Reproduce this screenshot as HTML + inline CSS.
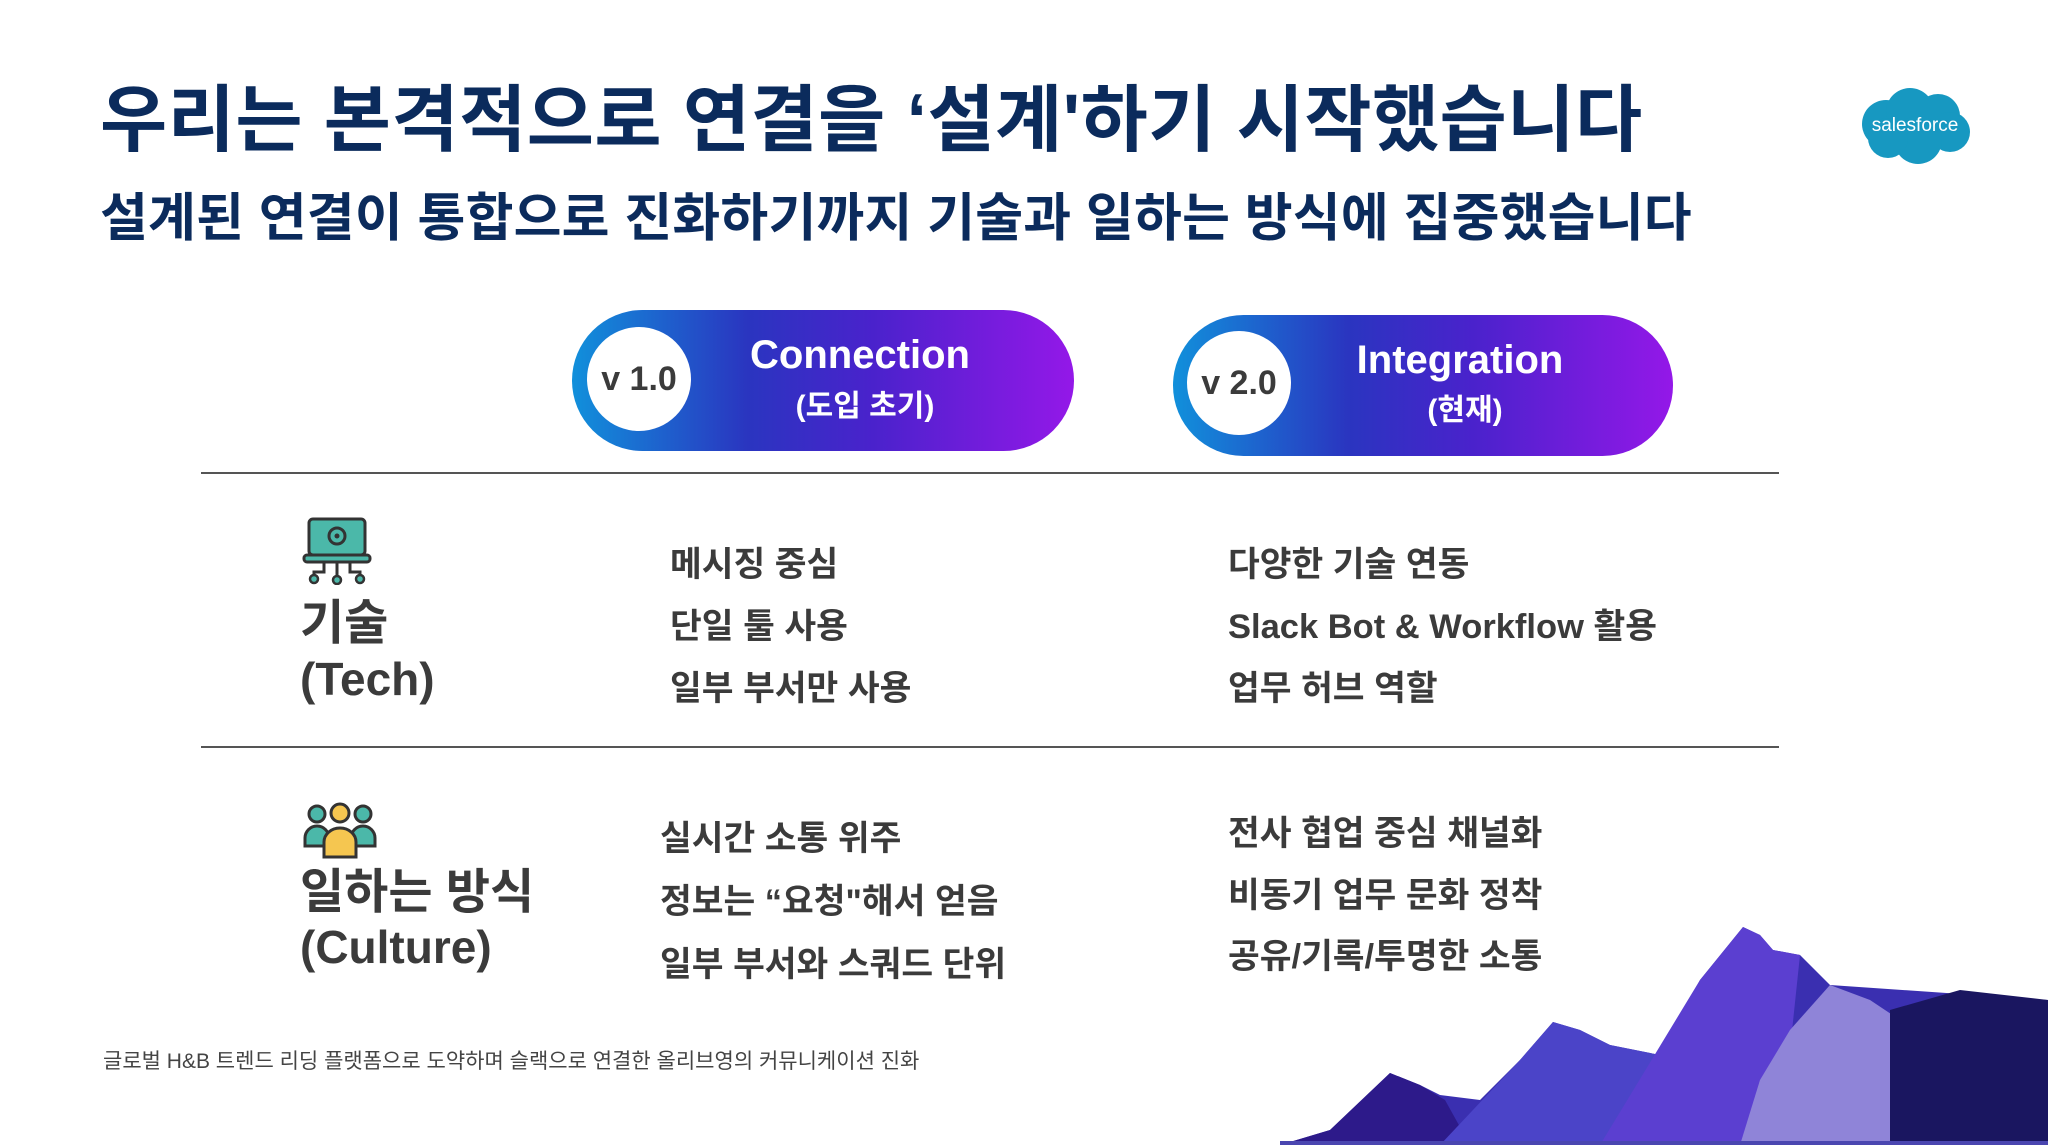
<!DOCTYPE html>
<html><head><meta charset="utf-8">
<style>
html,body{margin:0;padding:0}
body{width:2048px;height:1145px;position:relative;overflow:hidden;background:#fff;font-family:"Liberation Sans","Noto Sans CJK KR",sans-serif}
.t{position:absolute;white-space:nowrap;line-height:1}
.b{color:#3b3b3b;font-size:34.5px;font-weight:bold}
.h{color:#0b2b5c;font-weight:bold}
.pill{position:absolute;border-radius:80px;background:linear-gradient(90deg,#1190db 0%,#2a35c0 35%,#4a22cc 60%,#9418e8 100%)}
.circ{position:absolute;background:#fff;border-radius:50%;color:#3b3b3b;font-weight:bold;font-size:34px;display:flex;align-items:center;justify-content:center}
.pt{position:absolute;color:#fff;font-weight:bold;text-align:center;line-height:1}
.line{position:absolute;left:201px;width:1578px;height:2px;background:#555}
</style></head><body>
<div class="t h" style="left:100px;top:84px;font-size:73px;letter-spacing:0.5px">우리는 본격적으로 연결을 ‘설계'하기 시작했습니다</div>
<div class="t h" style="left:100px;top:193px;font-size:52px;letter-spacing:0.2px">설계된 연결이 통합으로 진화하기까지 기술과 일하는 방식에 집중했습니다</div>

<svg style="position:absolute;left:1858px;top:86px" width="114" height="80" viewBox="0 0 114 80">
<g fill="#1798c1"><circle cx="28" cy="38" r="24"/><circle cx="52" cy="26" r="24"/><circle cx="80" cy="30" r="22"/><circle cx="92" cy="46" r="20"/><circle cx="60" cy="54" r="24"/><circle cx="30" cy="52" r="20"/></g>
<text x="57" y="45" fill="#fff" font-size="19" text-anchor="middle" font-family="Liberation Sans,sans-serif">salesforce</text></svg>

<div class="pill" style="left:572px;top:310px;width:502px;height:141px"></div>
<div class="circ" style="left:587px;top:327px;width:104px;height:104px">v 1.0</div>
<div class="pt" style="left:690px;top:335px;width:340px;font-size:40px">Connection</div>
<div class="pt" style="left:690px;top:392px;width:350px;font-size:30px">(도입 초기)</div>

<div class="pill" style="left:1173px;top:315px;width:500px;height:141px"></div>
<div class="circ" style="left:1187px;top:331px;width:104px;height:104px">v 2.0</div>
<div class="pt" style="left:1290px;top:340px;width:340px;font-size:40px">Integration</div>
<div class="pt" style="left:1290px;top:396px;width:350px;font-size:30px">(현재)</div>

<div class="line" style="top:472px"></div>
<div class="line" style="top:746px"></div>

<svg style="position:absolute;left:302px;top:517px" width="70" height="68" viewBox="0 0 70 68">
<rect x="7" y="2" width="56" height="36" rx="4" fill="#4bb8a9" stroke="#333" stroke-width="3"/>
<rect x="2" y="38" width="66" height="7" rx="3" fill="#4bb8a9" stroke="#333" stroke-width="3"/>
<circle cx="35" cy="19" r="8" fill="none" stroke="#333" stroke-width="3"/><circle cx="35" cy="19" r="2.5" fill="#333"/>
<path d="M35 45V62M22 45V55H12V60M48 45V55H58V60" stroke="#333" stroke-width="3" fill="none"/>
<circle cx="12" cy="62" r="4" fill="#4bb8a9" stroke="#333" stroke-width="2.5"/><circle cx="35" cy="63" r="4" fill="#4bb8a9" stroke="#333" stroke-width="2.5"/><circle cx="58" cy="62" r="4" fill="#4bb8a9" stroke="#333" stroke-width="2.5"/>
</svg>
<div class="t" style="left:300px;top:600px;font-size:48px;font-weight:bold;color:#3b3b3b">기술</div>
<div class="t" style="left:300px;top:656px;font-size:46px;font-weight:bold;color:#3b3b3b">(Tech)</div>

<svg style="position:absolute;left:303px;top:802px" width="74" height="58" viewBox="0 0 74 58">
<circle cx="14" cy="12" r="8" fill="#4bb8a9" stroke="#333" stroke-width="3"/><circle cx="60" cy="12" r="8" fill="#4bb8a9" stroke="#333" stroke-width="3"/>
<path d="M2 44V36a12 12 0 0 1 24 0V44Z M48 44V36a12 12 0 0 1 24 0V44Z" fill="#4bb8a9" stroke="#333" stroke-width="3"/>
<circle cx="37" cy="11" r="9" fill="#f5c650" stroke="#333" stroke-width="3"/>
<path d="M21 55V40a16 14 0 0 1 32 0V55Z" fill="#f5c650" stroke="#333" stroke-width="3"/>
</svg>
<div class="t" style="left:300px;top:869px;font-size:48px;font-weight:bold;color:#3b3b3b">일하는 방식</div>
<div class="t" style="left:300px;top:924px;font-size:46px;font-weight:bold;color:#3b3b3b">(Culture)</div>

<div class="t b" style="left:670px;top:548px">메시징 중심</div>
<div class="t b" style="left:670px;top:610px">단일 툴 사용</div>
<div class="t b" style="left:670px;top:672px">일부 부서만 사용</div>
<div class="t b" style="left:1228px;top:548px">다양한 기술 연동</div>
<div class="t b" style="left:1228px;top:610px">Slack Bot &amp; Workflow 활용</div>
<div class="t b" style="left:1228px;top:672px">업무 허브 역할</div>

<div class="t b" style="left:660px;top:822px">실시간 소통 위주</div>
<div class="t b" style="left:660px;top:885px">정보는 “요청"해서 얻음</div>
<div class="t b" style="left:660px;top:948px">일부 부서와 스쿼드 단위</div>
<div class="t b" style="left:1228px;top:817px">전사 협업 중심 채널화</div>
<div class="t b" style="left:1228px;top:879px">비동기 업무 문화 정착</div>
<div class="t b" style="left:1228px;top:940px">공유/기록/투명한 소통</div>

<div class="t" style="left:103px;top:1051px;font-size:21px;color:#444">글로벌 H&amp;B 트렌드 리딩 플랫폼으로 도약하며 슬랙으로 연결한 올리브영의 커뮤니케이션 진화</div>

<svg style="position:absolute;left:0;top:0" width="2048" height="1145" viewBox="0 0 2048 1145">
<polygon points="1280,1145 1330,1130 1390,1073 1420,1085 1440,1095 1480,1100 1520,1060 1553,1022 1580,1030 1610,1045 1660,1055 1700,980 1743,927 1760,935 1773,950 1800,955 1830,985 2048,1000 2048,1145" fill="#3a2fb0"/>
<polygon points="1280,1145 1330,1130 1390,1073 1420,1085 1445,1100 1470,1145" fill="#2d1a8a"/>
<polygon points="1440,1145 1520,1060 1553,1022 1580,1030 1610,1045 1660,1055 1640,1110 1600,1145" fill="#4b44c8"/>
<polygon points="1600,1145 1700,980 1743,927 1760,935 1773,950 1800,955 1790,1050 1740,1145" fill="#5b3fd0"/>
<polygon points="1740,1145 1760,1080 1790,1030 1830,985 1870,1000 1900,1020 1900,1145" fill="#8f84d8"/>
<polygon points="1890,1145 1890,1010 1960,990 2048,1000 2048,1145" fill="#1a1660"/>
<rect x="1280" y="1141" width="768" height="4" fill="#4a46b0"/>
</svg>
</body></html>
